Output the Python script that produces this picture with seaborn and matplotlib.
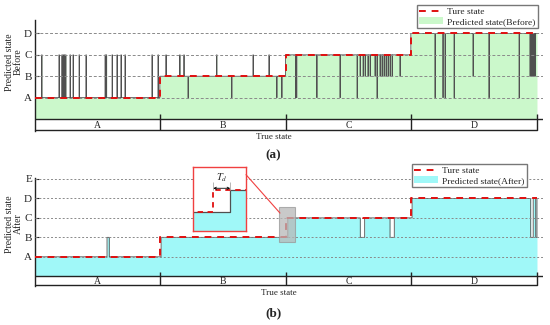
import numpy as np
import pandas as pd
import matplotlib.pyplot as plt
import seaborn as sns
from matplotlib.lines import Line2D
from matplotlib.patches import Patch, Rectangle, ConnectionPatch

sns.set_theme(style="white")
plt.rcParams["font.family"] = ["Liberation Serif", "DejaVu Serif"]
plt.rcParams["mathtext.fontset"] = "stix"

# ---- data ----
states_a = ["A", "B", "C", "D"]
states_b = ["A", "B", "C", "D", "E"]
segments = ["A", "B", "C", "D"]
seg_edges = [0, 100, 200, 300, 400]

true_t = [0, 100, 200, 300, 400]
true_lvl = [1, 2, 3, 4, 4]

# predicted state (before): base transitions + short glitches
before_t = [0, 99.5, 199.6, 299.5]
before_lvl = [1, 2, 3, 4]
before_glitch_t = [5.3, 19.1, 21.4, 22.4, 23.4, 24.4, 27.9, 30.3, 35.1, 40.6,
                   55.8, 56.8, 61.4, 65.3, 68.5, 71.7, 93.2, 98.0,
                   104.3, 115.3, 118.6, 121.9, 144.7, 156.7, 173.7, 186.4, 192.6, 196.6,
                   207.6, 208.4, 224.5, 243.0, 256.6, 259.0, 261.4, 263.0, 265.3, 267.0,
                   270.9, 272.5, 274.9, 276.5, 278.1, 279.7, 281.3, 282.9, 284.5, 290.8,
                   318.7, 325.0, 326.7, 333.9, 349.0, 361.7, 385.7,
                   394.4, 395.4, 396.4, 397.4, 398.4]
before_glitch_lvl = [3, 3, 3, 3, 3, 3, 3, 3, 3, 3,
                     3, 3, 3, 3, 3, 3, 3, 3,
                     3, 3, 3, 1, 3, 1, 3, 3, 1, 1,
                     1, 1, 1, 1, 1, 2, 2, 2, 2, 2,
                     2, 1, 2, 2, 2, 2, 2, 2, 2, 2,
                     1, 1, 1, 1, 2, 1, 1,
                     2, 2, 2, 2, 2]

# predicted state (after)
after_t = [0, 100.5, 201.5, 300.5]
after_lvl = [1, 2, 3, 4]
after_glitch_t = [57.4, 259.2, 282.9, 395.0, 399.0]
after_glitch_dur = [1.8, 3.5, 3.4, 2.0, 1.0]
after_glitch_lvl = [2, 2, 2, 2, 2]

GLITCH = 0.3


def build(change_t, lvls, g_t, g_lvl, g_dur):
    t = np.round(np.arange(0, 400.05, 0.1), 1)
    idx = np.searchsorted(change_t, t, side="right") - 1
    y = np.array(lvls, dtype=float)[idx]
    for s, l, d in zip(g_t, g_lvl, g_dur):
        y[(t >= s - 1e-9) & (t < s + d - 1e-9)] = l
    return pd.DataFrame({"t": t, "state": y})


df_before = build(before_t, before_lvl, before_glitch_t, before_glitch_lvl,
                  [GLITCH] * len(before_glitch_t))
df_after = build(after_t, after_lvl, after_glitch_t, after_glitch_lvl, after_glitch_dur)
df_true = pd.DataFrame({"t": true_t, "state": true_lvl})

GREEN = "#cbf8cb"
CYAN = "#a0f8f8"
RED = "#e01010"
EDGE = "#505050"

fig = plt.figure(figsize=(5.5, 3.25), dpi=100)


def draw_panel(ax, df, fill, labels, ylim, grid_ls):
    n = len(labels)
    ax.fill_between(df["t"], 0, df["state"], step="post", color=fill, lw=0, zorder=1)
    sns.lineplot(data=df, x="t", y="state", ax=ax, drawstyle="steps-post",
                 estimator=None, sort=False, color=EDGE, lw=0.6, zorder=2)
    for lv in range(1, n + 1):
        ax.axhline(lv, color="#8a8a8a", lw=0.7, ls=grid_ls, zorder=3)
    sns.lineplot(data=df_true, x="t", y="state", ax=ax, drawstyle="steps-post",
                 estimator=None, sort=False, color=RED, lw=1.4,
                 linestyle=(0, (3.5, 3)), zorder=4)
    ax.axhline(0, color="#222222", lw=1.0, zorder=5)
    ax.plot([0, 400], [ylim[0] + 0.03] * 2, color="#222222", lw=1.0, clip_on=False)
    ax.vlines(seg_edges[1:], ylim[0] + 0.03, 0.22, color="#222222", lw=1.0, zorder=5)
    for i, s in enumerate(segments):
        ax.text((seg_edges[i] + seg_edges[i + 1]) / 2, ylim[0] / 2, s,
                ha="center", va="center", fontsize=7)
    ax.set_xlim(0, 404.8)
    ax.set_ylim(*ylim)
    ax.set_yticks(range(1, n + 1))
    ax.set_yticklabels(labels)
    ax.set_xticks([])
    ax.set_xlabel("")
    ax.set_ylabel("")
    for sp in ["top", "right", "bottom"]:
        ax.spines[sp].set_visible(False)
    ax.spines["left"].set_color("#222222")
    ax.spines["left"].set_linewidth(1.0)
    ax.tick_params(axis="y", direction="in", length=3, width=0.8,
                   labelsize=8, pad=2, left=True)


# panel (a)
ax1 = fig.add_axes([35 / 550, 1 - 131 / 325, 508 / 550, 111 / 325])
draw_panel(ax1, df_before, GREEN, states_a, (-0.56, 4.63), (0, (3, 2)))
fig.text(14 / 550, 1 - 62 / 325, "Predicted state\nBefore", rotation=90,
         ha="center", va="center", fontsize=7, linespacing=1.0)
fig.text(274 / 550, 1 - 137 / 325, "True state", ha="center", va="center", fontsize=6.5)
fig.text(273 / 550, 1 - 155 / 325, "(a)", ha="center", va="center",
         fontsize=9.5, fontweight="bold")
fig.legend(handles=[Line2D([], [], color=RED, lw=1.4, linestyle=(0, (3.5, 3))),
                    Patch(facecolor=GREEN, edgecolor="none")],
           labels=["Ture state", "Predicted state(Before)"],
           loc="upper right", bbox_to_anchor=(538 / 550, 1 - 5 / 325),
           fontsize=6.8, frameon=True, fancybox=False, edgecolor="#777777",
           framealpha=1, borderpad=0.25, labelspacing=0.15, handlelength=2.6,
           handletextpad=0.4, borderaxespad=0)

# panel (b)
ax2 = fig.add_axes([35 / 550, 1 - 286 / 325, 508 / 550, 108 / 325])
draw_panel(ax2, df_after, CYAN, states_b, (-0.5, 5.05), (0, (2, 2)))
fig.text(14 / 550, 1 - 224 / 325, "Predicted state\nAfter", rotation=90,
         ha="center", va="center", fontsize=7, linespacing=1.0)
fig.text(279 / 550, 1 - 293 / 325, "True state", ha="center", va="center", fontsize=6.5)
fig.text(273 / 550, 1 - 313 / 325, "(b)", ha="center", va="center",
         fontsize=9.5, fontweight="bold")
fig.legend(handles=[Line2D([], [], color=RED, lw=1.4, linestyle=(0, (3.5, 3))),
                    Patch(facecolor=CYAN, edgecolor="none")],
           labels=["Ture state", "Predicted state(After)"],
           loc="upper right", bbox_to_anchor=(527 / 550, 1 - 164 / 325),
           fontsize=6.8, frameon=True, fancybox=False, edgecolor="#777777",
           framealpha=1, borderpad=0.25, labelspacing=0.15, handlelength=2.6,
           handletextpad=0.4, borderaxespad=0)

# zoom box on the B->C transition
zx, zy, zw, zh = 194.4, 1.75, 12.8, 1.81
ax2.add_patch(Rectangle((zx, zy), zw, zh, facecolor="#b8b8b8", alpha=0.75,
                        edgecolor="#999999", lw=0.8, zorder=6))

axin = fig.add_axes([193 / 550, 1 - 231 / 325, 53 / 550, 64 / 325])
axin.fill_between(df_after["t"], 0, df_after["state"], step="post", color=CYAN, lw=0)
sns.lineplot(data=df_after, x="t", y="state", ax=axin, drawstyle="steps-post",
             estimator=None, sort=False, color=EDGE, lw=0.9)
sns.lineplot(data=df_true, x="t", y="state", ax=axin, drawstyle="steps-post",
             estimator=None, sort=False, color=RED, lw=1.3, linestyle=(0, (3, 2.5)))
axin.annotate("", xy=(200, 3.08), xytext=(201.5, 3.08),
              arrowprops=dict(arrowstyle="<->", color="black", lw=0.6,
                              shrinkA=0, shrinkB=0, mutation_scale=4))
axin.vlines([200, 201.5], 3.0, 3.35, color="#aaaaaa", lw=0.6)
axin.text(200.75, 3.55, r"$T_d$", ha="center", va="center", fontsize=7.5)
axin.set_xlim(198.2, 202.9)
axin.set_ylim(1.17, 4.03)
axin.set_xticks([])
axin.set_yticks([])
axin.set_xlabel("")
axin.set_ylabel("")
axin.set_facecolor("white")
for sp in axin.spines.values():
    sp.set_visible(True)
    sp.set_color("#f04040")
    sp.set_linewidth(1.0)

con = ConnectionPatch(xyA=(1, 0.88), coordsA=axin.transAxes,
                      xyB=(195.2, 3.25), coordsB=ax2.transData,
                      color="#f04040", lw=0.8)
fig.add_artist(con)

fig.savefig("out.png", dpi=100)
